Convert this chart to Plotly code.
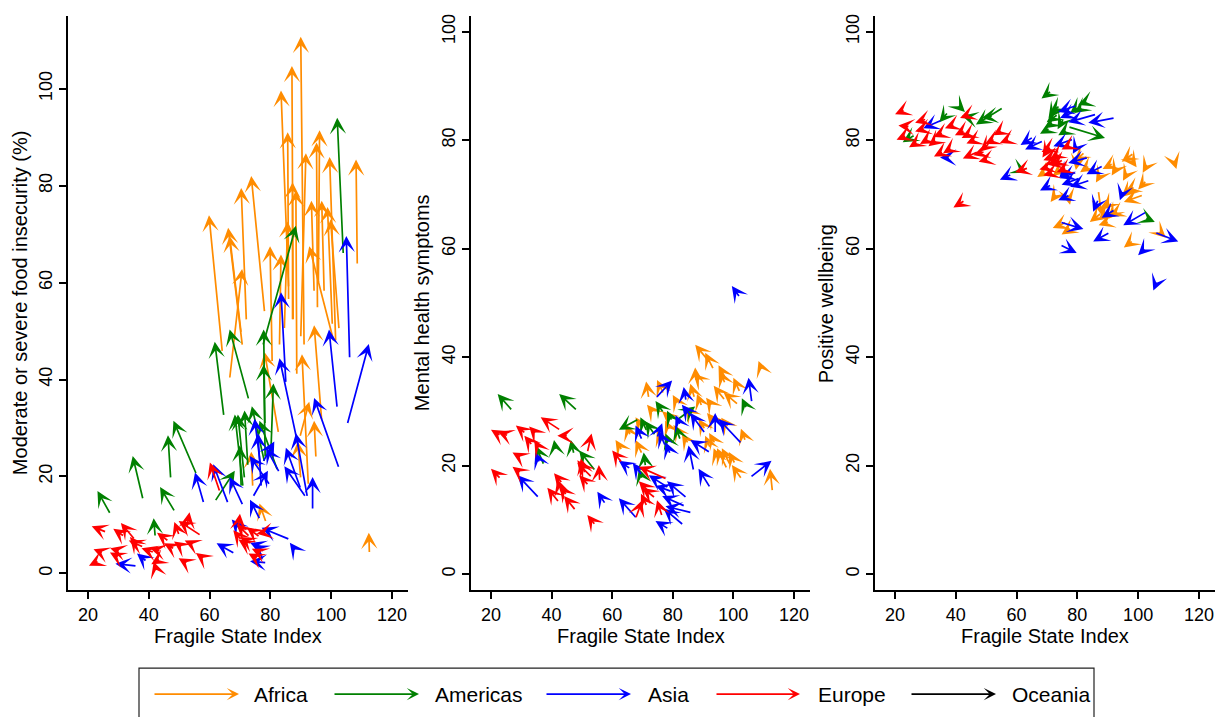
import plotly.graph_objects as go

W, H = 1218, 717

REGIONS = ["Africa", "Americas", "Asia", "Europe", "Oceania"]
COLORS = ["#FF8C00", "#008000", "#0000FF", "#FF0000", "#000000"]
X_TICKS = [20, 40, 60, 80, 100, 120]
Y_TICKS = [0, 20, 40, 60, 80, 100]
X_TITLE = "Fragile State Index"
Y_TITLES = ["Moderate or severe food insecurity (%)", "Mental health symptoms", "Positive wellbeing"]

# each arrow: (FSI start, value start, FSI end, value end)
food_africa = [
    (91.1, 46.9, 90.0, 110.7), (87.5, 52.1, 87.1, 104.7), (86.0, 58.9, 83.5, 99.6),
    (86.0, 56.3, 85.7, 91.0), (95.8, 59.8, 96.2, 91.4), (95.5, 54.6, 95.2, 88.9),
    (90.0, 48.6, 91.7, 86.7), (101.5, 47.8, 99.5, 85.9), (108.6, 63.6, 108.2, 85.4),
    (87.3, 52.1, 87.3, 80.7), (88.7, 40.9, 88.4, 79.0), (78.1, 53.8, 73.7, 82.0),
    (72.1, 52.1, 70.4, 79.5), (64.2, 45.6, 59.8, 73.9), (70.8, 46.9, 66.1, 71.3),
    (70.4, 49.5, 66.6, 69.6), (66.6, 40.1, 70.7, 62.8), (80.6, 43.5, 79.9, 67.5),
    (83.0, 46.9, 83.5, 65.8), (100.9, 47.8, 92.8, 67.5), (94.4, 58.0, 93.5, 76.9),
    (97.7, 58.0, 96.9, 76.9), (100.4, 51.2, 98.8, 75.6), (102.6, 50.3, 99.8, 73.0),
    (84.6, 50.3, 85.7, 72.6), (96.9, 31.5, 94.4, 51.2), (92.5, 18.2, 90.4, 45.2),
    (82.7, 28.9, 78.1, 45.6), (95.0, 23.8, 94.4, 31.5), (89.7, 28.1, 92.8, 35.4),
    (90.0, 19.5, 89.0, 27.2), (74.2, 17.8, 73.7, 25.1), (78.6, 10.5, 76.4, 14.4),
    (112.6, 4.1, 112.4, 8.4),
]
food_americas = [
    (104.0, 65.8, 102.0, 94.0), (77.5, 46.9, 88.4, 71.7), (72.9, 35.8, 66.6, 50.3),
    (64.7, 32.4, 61.7, 47.8), (78.2, 30.7, 77.8, 50.3), (78.3, 23.8, 77.8, 43.1),
    (80.2, 25.5, 81.0, 39.2), (71.5, 19.5, 69.3, 32.8), (72.6, 22.1, 71.5, 33.6),
    (78.1, 22.9, 73.9, 34.5), (71.0, 17.8, 68.3, 32.8), (55.7, 20.4, 48.1, 31.5),
    (47.2, 19.5, 46.3, 28.5), (38.1, 15.2, 34.7, 24.2), (48.6, 12.7, 43.7, 17.8),
    (27.4, 12.2, 23.1, 17.0), (42.1, 7.5, 41.6, 11.4), (70.4, 17.8, 69.9, 26.4),
    (61.7, 14.8, 68.3, 21.2), (82.4, 21.2, 76.4, 31.5),
]
food_asia = [
    (106.1, 44.3, 105.0, 69.6), (85.1, 39.2, 83.5, 58.0), (102.0, 34.1, 99.3, 50.3),
    (105.3, 30.7, 112.4, 47.3), (89.3, 25.9, 83.0, 44.4), (102.6, 21.7, 94.4, 36.2),
    (92.2, 15.7, 88.4, 28.9), (76.8, 22.1, 74.8, 31.9), (77.0, 17.8, 75.9, 28.9),
    (90.0, 17.4, 85.1, 25.9), (83.0, 20.8, 78.6, 25.9), (77.5, 22.9, 81.3, 27.2),
    (79.9, 18.2, 73.2, 24.2), (91.7, 15.7, 84.6, 22.1), (74.2, 15.7, 79.2, 21.2),
    (93.9, 13.1, 93.9, 19.9), (71.0, 14.0, 66.6, 19.9), (66.1, 14.4, 61.2, 22.5),
    (58.1, 14.4, 55.2, 20.8), (76.6, 11.1, 73.3, 15.2), (68.3, 4.1, 62.3, 6.2),
    (39.4, 2.4, 36.1, 4.1), (36.1, 1.5, 29.0, 2.0), (88.1, 4.9, 86.4, 6.3),
    (86.4, 7.0, 77.1, 9.4), (78.8, 2.2, 73.3, 2.5), (78.1, 4.5, 74.2, 5.8),
    (77.7, 5.3, 73.3, 6.3), (70.6, 8.7, 67.3, 11.1),
]
food_europe = [
    (26.1, 8.5, 21.2, 9.7), (25.0, 4.2, 21.8, 5.0), (23.6, 2.6, 20.3, 1.6),
    (32.0, 7.6, 28.3, 9.2), (35.5, 6.9, 30.8, 10.4), (30.5, 4.6, 27.3, 5.2),
    (30.2, 3.3, 27.2, 4.3), (38.3, 5.4, 33.4, 6.8), (36.6, 5.4, 33.8, 7.5),
    (41.8, 4.3, 37.6, 5.2), (44.0, 4.6, 40.4, 5.2), (43.8, 3.0, 40.8, 1.9),
    (42.2, 1.2, 41.6, 2.4), (46.6, 6.6, 42.7, 8.4), (48.5, 5.0, 45.0, 6.2),
    (51.0, 5.4, 48.3, 6.6), (50.0, 7.8, 48.4, 10.6), (57.2, 7.8, 49.8, 10.8),
    (52.5, 9.4, 53.4, 12.6), (54.5, 6.0, 51.8, 6.8), (52.8, 2.0, 49.8, 3.1),
    (57.5, 3.3, 55.5, 4.2), (63.4, 16.8, 60.1, 22.9), (69.5, 9.5, 70.0, 12.3),
    (73.3, 7.5, 68.9, 10.2), (70.6, 6.8, 67.8, 8.9), (76.6, 7.5, 72.2, 9.5),
    (73.9, 6.1, 70.0, 7.5), (77.2, 4.1, 73.9, 5.1), (78.2, 8.5, 75.5, 8.2),
    (76.0, 3.0, 72.8, 4.1), (72.0, 6.0, 69.5, 7.0),
]

mental_africa = [
    (92.4, 38.9, 87.4, 42.3), (93.5, 37.7, 90.7, 40.8), (109.4, 37.7, 108.3, 39.3),
    (87.7, 35.5, 87.4, 38.1), (97.3, 36.2, 95.1, 38.5), (97.3, 35.1, 95.6, 37.4),
    (102.2, 33.5, 100.0, 36.2), (72.1, 32.4, 71.2, 35.5), (77.0, 33.2, 74.8, 35.8),
    (87.2, 32.4, 85.8, 35.1), (97.3, 32.0, 93.5, 34.7), (101.7, 31.2, 96.8, 33.5),
    (89.6, 30.9, 88.0, 33.2), (73.7, 29.7, 71.5, 31.2), (69.9, 27.0, 67.7, 28.9),
    (86.3, 29.3, 84.1, 30.9), (93.5, 28.2, 91.3, 29.7), (90.7, 26.6, 88.5, 28.6),
    (92.4, 23.2, 90.7, 25.5), (99.0, 20.1, 96.2, 23.2), (102.8, 17.5, 99.5, 20.1),
    (112.9, 15.2, 112.1, 19.4), (69.9, 22.1, 67.7, 24.7), (63.3, 22.8, 61.1, 24.7),
    (95.1, 20.9, 93.5, 23.2), (97.9, 19.4, 94.6, 23.2), (76.5, 24.3, 74.8, 26.6),
    (85.2, 24.0, 83.0, 25.9), (78.7, 28.9, 76.5, 30.0), (82.0, 26.0, 80.2, 27.5),
    (98.4, 27.0, 96.0, 28.8), (94.0, 24.0, 92.0, 26.0), (100.6, 20.3, 98.5, 22.5),
    (79.0, 26.5, 77.5, 28.3), (81.5, 31.5, 80.0, 33.0), (88.5, 36.0, 86.8, 37.0),
    (104.0, 24.5, 102.5, 26.8), (66.0, 25.5, 64.6, 27.6), (93.0, 31.0, 91.0, 32.5),
]
mental_americas = [
    (27.1, 30.1, 22.2, 33.2), (48.5, 30.1, 42.5, 33.2), (77.0, 29.7, 74.3, 31.9),
    (104.4, 30.5, 102.8, 32.4), (79.8, 28.2, 78.1, 30.1), (80.9, 28.2, 87.4, 30.9),
    (68.8, 28.6, 62.2, 26.6), (71.5, 26.3, 69.3, 28.9), (74.3, 25.5, 70.9, 28.2),
    (82.5, 24.7, 80.9, 27.4), (47.4, 22.1, 46.3, 24.7), (41.4, 22.8, 40.8, 24.7),
    (37.5, 20.1, 34.8, 23.6), (54.5, 19.0, 49.1, 22.8), (71.0, 19.8, 70.4, 22.4),
    (69.9, 17.5, 68.8, 19.4), (78.7, 24.3, 77.6, 25.9),
]
mental_asia = [
    (102.2, 51.0, 99.5, 53.1), (74.3, 32.4, 79.8, 35.7), (84.4, 31.9, 83.6, 34.5),
    (86.3, 28.9, 83.0, 31.2), (90.7, 25.9, 85.8, 29.7), (82.5, 27.4, 80.9, 29.3),
    (94.0, 25.9, 94.0, 29.7), (102.8, 24.0, 95.1, 28.6), (69.9, 24.7, 67.7, 27.4),
    (74.8, 25.1, 76.5, 27.8), (77.6, 23.6, 75.4, 26.3), (79.2, 22.1, 77.6, 24.3),
    (92.4, 22.4, 85.8, 24.7), (86.9, 19.0, 85.2, 23.7), (92.4, 15.9, 88.5, 19.4),
    (105.5, 17.8, 112.6, 20.9), (106.1, 31.6, 105.0, 36.2), (36.1, 20.5, 34.6, 22.4),
    (35.9, 14.0, 28.8, 18.2), (66.1, 19.4, 62.2, 20.9), (69.9, 18.2, 66.8, 20.5),
    (57.8, 12.9, 55.1, 15.2), (68.2, 10.2, 62.2, 14.0), (78.7, 15.9, 72.1, 18.2),
    (79.8, 15.2, 74.3, 16.3), (84.7, 14.0, 78.1, 17.1), (84.1, 12.5, 76.5, 14.4),
    (86.3, 11.3, 77.6, 12.5), (78.7, 8.3, 74.3, 9.8), (83.6, 9.0, 77.0, 12.1),
]
mental_europe = [
    (23.3, 25.5, 20.0, 26.6), (25.8, 25.5, 22.2, 26.3), (31.5, 25.9, 28.2, 27.4),
    (34.8, 25.9, 32.6, 27.2), (33.7, 23.7, 31.0, 25.5), (35.9, 23.2, 34.3, 24.7),
    (43.0, 26.5, 36.4, 28.9), (45.5, 25.5, 41.9, 25.5), (29.3, 21.7, 27.1, 22.4),
    (23.3, 17.5, 20.0, 19.4), (29.9, 18.6, 27.1, 19.8), (42.5, 13.2, 38.6, 15.9),
    (43.6, 16.7, 40.8, 18.6), (44.1, 13.6, 41.9, 17.5), (48.0, 11.7, 44.1, 14.4),
    (53.4, 17.8, 48.5, 20.5), (52.3, 16.3, 49.1, 18.2), (51.8, 22.4, 53.2, 25.9),
    (55.9, 17.1, 55.6, 20.1), (54.5, 9.0, 51.8, 10.9), (63.3, 20.5, 60.0, 22.8),
    (67.7, 10.2, 69.9, 13.6), (74.3, 14.0, 69.9, 15.9), (72.1, 15.2, 68.8, 17.1),
    (76.5, 10.6, 74.8, 13.6), (78.1, 17.5, 68.8, 19.8), (51.0, 18.5, 49.6, 21.3),
    (45.0, 14.5, 42.8, 16.3), (50.5, 19.5, 48.5, 21.0), (71.5, 12.5, 69.5, 14.8),
]

wellbeing_africa = [
    (98.6, 77.6, 94.6, 76.0), (98.2, 76.0, 99.5, 75.0), (102.8, 75.3, 101.5, 74.0),
    (111.9, 76.0, 112.6, 74.7), (91.8, 75.7, 88.3, 74.7), (92.4, 74.5, 91.3, 73.5),
    (82.5, 77.8, 78.9, 76.0), (84.1, 75.3, 80.9, 74.1), (87.4, 73.4, 86.1, 72.2),
    (69.3, 74.1, 66.8, 73.2), (74.3, 74.5, 71.9, 73.4), (73.2, 70.1, 71.2, 68.6),
    (77.0, 69.5, 77.6, 68.1), (99.0, 71.4, 95.7, 70.4), (101.7, 69.9, 95.3, 68.6),
    (102.8, 72.6, 100.0, 70.9), (88.0, 66.6, 84.1, 64.9), (89.6, 66.5, 86.9, 65.3),
    (92.9, 67.2, 90.2, 65.5), (86.9, 70.7, 88.0, 66.1), (76.5, 64.9, 71.9, 63.8),
    (78.1, 63.8, 74.8, 62.6), (98.4, 61.5, 95.3, 60.2), (107.2, 63.0, 109.1, 62.0),
    (90.7, 68.4, 88.5, 67.2), (93.5, 66.8, 90.5, 66.0), (90.5, 65.0, 87.0, 64.3),
    (96.5, 70.5, 94.5, 69.5), (80.0, 76.0, 79.5, 74.5), (96.5, 74.0, 95.0, 72.5),
]
wellbeing_americas = [
    (26.6, 81.0, 22.5, 79.6), (37.5, 85.2, 34.6, 83.3), (40.8, 86.4, 43.0, 85.2),
    (55.6, 86.0, 46.6, 82.9), (52.3, 84.5, 48.5, 84.1), (71.5, 89.1, 68.2, 87.7),
    (74.3, 86.4, 71.0, 85.0), (73.7, 84.8, 69.9, 83.3), (72.1, 83.3, 69.3, 82.2),
    (71.0, 82.2, 67.7, 81.2), (76.5, 81.8, 73.7, 80.9), (79.8, 85.9, 77.6, 84.9),
    (83.0, 87.1, 80.3, 86.5), (76.9, 82.5, 89.1, 80.4), (60.6, 74.7, 63.3, 74.0),
    (102.2, 65.7, 105.5, 64.9), (73.0, 86.0, 70.5, 84.0), (81.5, 86.0, 79.0, 85.0),
    (75.5, 84.0, 73.5, 82.0), (45.5, 84.0, 42.0, 84.5),
]
wellbeing_asia = [
    (35.4, 83.7, 29.3, 82.2), (37.9, 76.8, 34.8, 76.8), (58.4, 73.7, 54.5, 72.7),
    (65.5, 80.6, 61.3, 79.1), (68.8, 79.9, 62.8, 78.3), (79.8, 86.4, 73.7, 85.2),
    (78.7, 85.2, 74.3, 84.1), (86.3, 84.8, 77.0, 83.3), (92.4, 84.1, 83.6, 83.2),
    (78.7, 80.2, 72.1, 78.9), (83.6, 76.8, 77.0, 75.8), (79.8, 74.1, 74.3, 73.0),
    (80.9, 73.0, 74.8, 71.8), (84.1, 72.6, 77.6, 71.4), (88.5, 75.3, 83.0, 73.7),
    (71.5, 71.8, 67.7, 70.7), (77.6, 69.9, 73.7, 68.9), (95.1, 70.7, 94.0, 68.9),
    (86.9, 69.1, 85.2, 66.8), (92.4, 67.2, 88.0, 65.7), (74.3, 64.9, 82.0, 63.6),
    (102.8, 66.8, 95.1, 64.3), (90.7, 63.0, 85.2, 61.3), (74.3, 60.7, 79.8, 59.2),
    (102.2, 60.0, 100.0, 58.8), (105.5, 63.0, 113.2, 61.3), (106.1, 53.8, 105.0, 52.3),
    (76.5, 74.5, 74.0, 73.0), (80.0, 79.0, 78.5, 77.5),
]
wellbeing_europe = [
    (23.3, 85.6, 20.0, 84.8), (24.9, 82.5, 21.1, 82.7), (23.8, 80.9, 20.5, 80.1),
    (30.4, 83.9, 26.6, 83.2), (29.9, 82.2, 26.6, 81.6), (31.0, 80.2, 28.2, 79.3),
    (33.7, 80.1, 31.0, 78.9), (35.9, 81.4, 32.6, 80.6), (35.9, 77.9, 32.8, 77.0),
    (39.7, 82.9, 36.4, 82.2), (43.0, 81.8, 39.7, 80.9), (44.7, 84.8, 41.4, 84.1),
    (44.7, 81.2, 41.9, 80.4), (47.4, 77.9, 42.3, 76.6), (49.6, 77.9, 45.8, 77.2),
    (51.2, 79.5, 48.0, 77.9), (52.9, 80.2, 49.6, 79.3), (55.1, 81.8, 52.3, 80.9),
    (57.6, 80.2, 54.5, 79.5), (43.0, 68.9, 39.2, 67.6), (63.9, 74.9, 59.5, 74.1),
    (71.5, 78.7, 68.2, 77.8), (72.1, 77.0, 68.8, 76.3), (73.7, 76.0, 69.9, 75.5),
    (75.4, 76.4, 71.5, 75.3), (77.6, 79.1, 74.8, 78.3), (72.1, 74.1, 68.8, 73.5),
    (76.5, 74.9, 73.2, 74.1), (27.0, 79.5, 24.6, 78.7), (38.5, 78.5, 35.8, 77.6),
    (46.0, 80.0, 43.5, 79.4), (50.5, 76.5, 47.5, 76.0), (70.5, 78.5, 68.5, 76.8),
    (74.0, 77.5, 71.0, 76.5), (70.0, 75.0, 67.5, 74.6),
]

PANELS = [
    [food_africa, food_americas, food_asia, food_europe, []],
    [mental_africa, mental_americas, mental_asia, mental_europe, []],
    [wellbeing_africa, wellbeing_americas, wellbeing_asia, wellbeing_europe, []],
]

FONT = "Liberation Sans, Arial, Helvetica, sans-serif"
X_DOMAINS = [[68 / W, 408 / W], [471 / W, 810 / W], [875 / W, 1215 / W]]
Y_DOMAIN = [1 - 590 / H, 1 - 14 / H]
Y_RANGES = [[-3.5, 115.0], [-3.0, 102.9], [-3.0, 102.9]]
X_RANGE = [13.4, 125.3]

fig = go.Figure()
annotations = []
layout_axes = {}
for p in range(3):
    sfx = "" if p == 0 else str(p + 1)
    xref, yref = "x" + sfx, "y" + sfx
    fig.add_trace(go.Scatter(x=[None], y=[None], xaxis=xref, yaxis=yref,
                             showlegend=False, hoverinfo="skip"))
    common = dict(showline=True, linecolor="black", linewidth=1.8, ticks="outside",
                  ticklen=7, tickwidth=1.6, tickcolor="black", showgrid=False,
                  zeroline=False, tickfont=dict(family=FONT, size=18, color="black"))
    layout_axes["xaxis" + sfx] = dict(domain=X_DOMAINS[p], range=X_RANGE, tickvals=X_TICKS,
                                      anchor=yref, **common)
    layout_axes["yaxis" + sfx] = dict(domain=Y_DOMAIN, range=Y_RANGES[p], tickvals=Y_TICKS,
                                      anchor=xref, tickangle=-90, **common)
    for r, arrows in enumerate(PANELS[p]):
        for (x0, y0, x1, y1) in arrows:
            annotations.append(dict(x=x1, y=y1, ax=x0, ay=y0, xref=xref, yref=yref,
                                    axref=xref, ayref=yref, text="", showarrow=True,
                                    arrowhead=3, arrowsize=1.6, arrowwidth=1.7,
                                    arrowcolor=COLORS[r], standoff=0, startstandoff=0))
    xc = (X_DOMAINS[p][0] + X_DOMAINS[p][1]) / 2
    annotations.append(dict(x=xc, y=1 - 636 / H, xref="paper", yref="paper", text=X_TITLE,
                            showarrow=False, xanchor="center", yanchor="middle",
                            font=dict(family=FONT, size=20, color="black")))
    ytx = [20, 422, 826][p]
    annotations.append(dict(x=ytx / W, y=1 - 302 / H, xref="paper", yref="paper",
                            text=Y_TITLES[p], textangle=-90, showarrow=False,
                            xanchor="center", yanchor="middle",
                            font=dict(family=FONT, size=20, color="black")))

# legend
LEG_ARROW = [(153, 239), (333, 419), (545, 631), (715, 800), (910, 996)]
LEG_TEXT_X = [252, 433, 646, 816, 1010]
ly = 1 - 694 / H
for i, name in enumerate(REGIONS):
    a0, a1 = LEG_ARROW[i]
    annotations.append(dict(x=a1 / W, y=ly, xref="paper", yref="paper", ax=-(a1 - a0), ay=0,
                            text="", showarrow=True, arrowhead=3, arrowsize=1.2,
                            arrowwidth=1.7, arrowcolor=COLORS[i], standoff=0))
    annotations.append(dict(x=LEG_TEXT_X[i] / W, y=ly, xref="paper", yref="paper", text=name,
                            showarrow=False, xanchor="left", yanchor="middle",
                            font=dict(family=FONT, size=21, color="black")))

shapes = [dict(type="rect", xref="paper", yref="paper", x0=139 / W, x1=1094 / W,
               y0=-0.05, y1=1 - 668 / H, line=dict(color="#222222", width=1.2))]

fig.update_layout(width=W, height=H, margin=dict(l=0, r=0, t=0, b=0),
                  paper_bgcolor="white", plot_bgcolor="white",
                  annotations=annotations, shapes=shapes, **layout_axes)
fig.write_html("out.html", config={"displayModeBar": False},
               post_script="document.body.style.margin='0px';document.body.style.padding='0px';")
